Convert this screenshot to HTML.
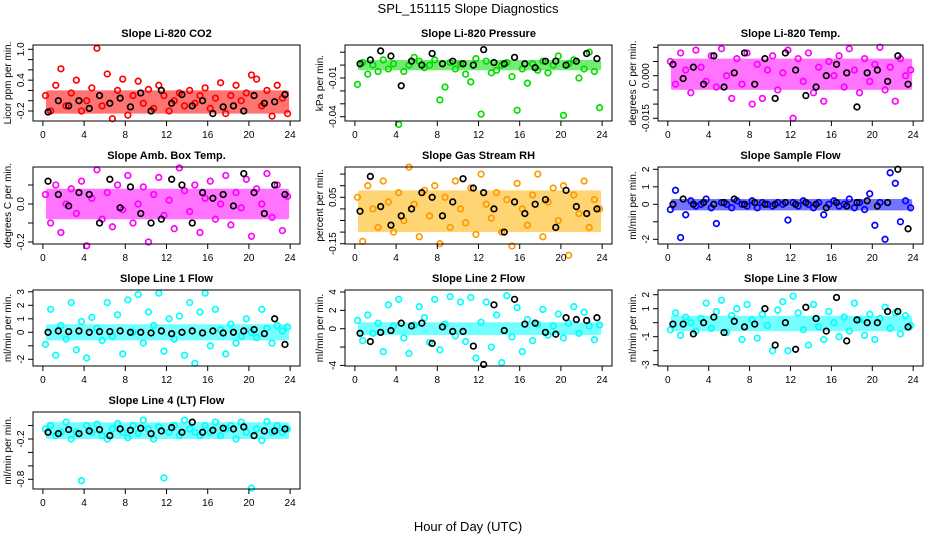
<!DOCTYPE html>
<html><head><meta charset="utf-8"><style>
body{margin:0;background:#fff}
svg{display:block;font-family:"Liberation Sans",sans-serif}
</style></head><body>
<svg id="c" width="936" height="540" viewBox="0 0 936 540">
<text x="468" y="13" text-anchor="middle" font-size="13">SPL_151115  Slope Diagnostics</text>
<text x="468" y="531" text-anchor="middle" font-size="13">Hour of Day (UTC)</text>
</svg>
<script>
const xTicks=[0,4,8,12,16,20,24];
const colHours=Array.from({length:48},(_,i)=>0.25+i*0.5);
const blkHours=Array.from({length:24},(_,i)=>0.5+i);

const co2Vals=[0.1,-0.2,0.3,0.62,-0.1,0.15,0.4,-0.2,0.0,0.25,1.02,-0.1,0.52,-0.35,0.2,0.42,-0.28,0.1,0.38,-0.05,0.22,-0.15,0.3,0.1,-0.2,0.0,0.15,-0.1,0.2,-0.05,0.1,0.25,-0.15,0.05,0.35,-0.25,0.1,0.3,0.0,0.15,0.5,0.42,-0.1,0.2,-0.3,0.3,0.05,-0.25];
const co2Blk=[-0.22,0.0,-0.1,0.0,-0.15,0.1,-0.05,0.05,-0.12,0.15,-0.2,0.2,-0.05,0.12,-0.1,0.0,-0.25,-0.12,-0.1,-0.2,0.1,-0.05,-0.02,0.12];
const presVals=[-0.015,0.002,-0.007,0.0,-0.005,0.004,-0.003,0.001,-0.046,-0.005,0.0,0.006,0.003,-0.002,0.0,0.004,-0.027,-0.017,0.002,-0.003,0.001,-0.007,-0.013,0.005,-0.038,0.003,-0.006,-0.004,0.0,0.002,-0.009,-0.035,-0.003,-0.014,0.001,-0.004,0.003,-0.006,0.0,0.007,-0.039,0.001,0.004,-0.01,-0.003,0.01,-0.005,-0.033];
const presBlk=[0.001,0.004,0.011,0.007,-0.016,0.003,0.0,0.009,0.001,0.003,0.001,0.0,0.012,0.002,0.001,0.006,0.001,-0.002,0.003,0.003,0.0,0.003,0.009,0.005];
const tempVals=[0.005,-0.003,0.008,0.002,-0.006,0.009,0.003,-0.002,0.007,-0.004,0.0095,0.0,-0.008,0.006,-0.003,0.008,-0.01,0.004,-0.008,0.002,0.007,-0.005,0.001,0.009,-0.015,0.006,-0.002,0.008,-0.006,0.003,-0.009,0.005,0.0,0.007,-0.004,0.0095,0.002,-0.006,0.006,-0.002,0.004,0.01,-0.005,0.003,-0.009,0.006,0.0,0.002];
const tempBlk=[0.004,-0.001,0.003,-0.003,0.007,-0.004,0.001,0.008,-0.003,0.006,-0.008,0.008,0.002,-0.007,-0.004,0.0,0.004,0.001,-0.011,0.001,0.002,-0.002,0.007,-0.003];
const ambVals=[0.05,-0.1,0.1,-0.15,0.0,0.08,-0.05,0.12,-0.22,0.03,0.18,-0.08,0.06,-0.12,0.1,-0.03,0.15,-0.1,0.0,0.09,-0.2,0.05,0.14,-0.06,0.02,-0.13,0.19,0.07,-0.04,0.1,-0.15,0.03,0.12,-0.08,0.0,0.15,-0.11,0.06,-0.02,0.13,-0.17,0.08,0.0,0.16,-0.07,0.1,-0.14,0.04];
const ambBlk=[0.12,0.05,-0.01,0.06,0.05,-0.1,0.13,-0.02,0.09,-0.05,-0.1,-0.08,0.13,0.1,-0.1,0.06,0.03,0.05,-0.01,0.16,0.06,-0.05,0.1,0.05];
const rhVals=[0.05,-0.14,0.1,0.0,-0.08,0.12,0.03,-0.1,0.07,-0.05,0.18,0.02,-0.12,0.08,-0.03,0.1,-0.15,0.05,-0.08,0.12,0.0,-0.06,0.09,-0.11,0.15,0.02,-0.04,0.07,-0.1,0.04,-0.16,0.11,0.0,-0.07,0.06,0.15,-0.12,0.03,0.09,-0.05,0.1,-0.2,0.06,-0.02,0.12,-0.08,0.04,0.0];
const rhBlk=[-0.01,0.14,0.01,-0.07,-0.03,0.0,0.07,0.05,-0.03,0.03,0.13,0.09,0.07,0.0,-0.1,0.03,-0.02,0.02,0.04,-0.08,0.08,0.01,-0.02,0.0];
const sfVals=[-0.3,0.8,-1.9,-0.6,0.2,-0.1,0.0,0.3,-0.2,-1.1,0.1,0.0,-0.2,0.2,0.0,-0.1,0.2,-0.2,0.1,0.0,-0.1,0.1,0.0,-0.9,0.1,-0.1,0.2,0.0,-0.2,0.1,-0.6,0.0,0.2,-0.1,0.0,0.3,-0.2,0.1,-0.3,0.6,-1.2,0.1,-2.0,1.8,1.2,-1.0,0.2,-0.2];
const sfBlk=[0.0,0.3,0.0,0.1,0.0,0.1,0.3,0.0,0.1,0.0,0.0,0.1,0.0,0.1,0.0,-0.2,0.1,-0.1,0.1,0.2,-0.1,0.1,2.0,-1.4];
const l1Vals=[-0.9,1.7,-1.7,0.5,-0.5,2.2,-1.3,0.8,-1.9,1.1,0.3,-0.6,2.2,-0.3,1.3,-1.6,2.4,0.0,2.8,-0.8,1.5,0.5,2.9,-1.4,1.0,-0.5,1.2,-1.7,2.2,-2.3,1.5,2.9,-1.0,1.7,0.2,-1.6,0.6,-0.8,-0.3,1.0,0.0,-0.4,1.7,0.3,-0.8,0.5,0.1,0.4];
const l1Blk=[0.0,0.1,0.05,0.1,0.0,0.05,0.05,0.1,0.0,0.0,-0.05,0.1,-0.1,0.0,0.1,-0.05,0.1,-0.05,0.0,0.1,0.2,-0.1,1.0,-0.9];
const l2Vals=[0.9,-1.3,1.5,-0.5,0.6,-2.5,2.6,0.3,3.2,-1.0,-2.7,0.4,2.4,1.2,-1.5,3.2,-2.3,0.5,3.5,-0.8,2.9,-1.4,3.4,-3.2,0.7,2.9,-2.0,1.5,-3.7,3.6,-0.9,2.3,-2.5,1.0,-1.3,0.5,2.1,-0.7,0.3,1.6,-1.0,0.6,2.4,-0.5,1.8,0.3,-1.2,0.4];
const l2Blk=[-0.5,-1.4,-0.4,-0.2,0.6,0.3,0.6,-1.6,0.2,-0.3,-0.3,-1.9,-3.9,2.6,-0.2,3.2,0.5,0.6,-0.4,-0.6,1.2,1.0,0.9,1.2];
const l3Vals=[-0.5,0.7,-0.9,0.4,0.0,-0.6,0.3,1.4,-0.4,0.8,1.6,-0.7,0.5,1.0,-1.2,1.3,0.2,-1.1,0.6,-0.2,-2.0,0.9,1.5,-2.0,1.9,0.7,-0.5,-1.6,1.3,-0.3,-1.2,0.8,0.0,-1.0,0.4,-0.6,1.4,0.2,-0.9,0.6,-1.2,0.3,1.1,-0.4,0.7,-0.8,0.5,-0.2];
const l3Blk=[-0.1,-0.1,-0.8,0.0,0.4,-0.7,0.1,-0.3,-0.1,1.0,-1.6,0.0,-1.9,1.1,0.3,-0.6,1.8,-1.3,0.2,0.0,0.0,0.8,0.8,-0.3];
const l4Vals=[-0.05,0.0,-0.15,-0.1,0.05,-0.2,-0.1,-0.82,0.0,-0.1,0.02,-0.15,-0.2,-0.05,0.03,-0.1,-0.18,0.0,-0.12,0.08,-0.05,-0.2,-0.02,-0.78,-0.1,0.0,-0.15,0.08,-0.05,-0.1,-0.15,0.0,-0.1,0.05,-0.15,-0.05,0.0,-0.2,0.05,-0.1,-0.93,-0.05,-0.22,0.06,-0.1,0.0,-0.1,-0.05];
const l4Blk=[-0.1,-0.12,-0.06,-0.12,-0.08,-0.06,-0.15,-0.05,-0.07,-0.04,-0.12,-0.08,-0.03,-0.1,0.05,-0.1,-0.07,-0.04,-0.05,-0.02,-0.15,-0.08,-0.08,-0.05];

const panels=[
 {name:"co2",title:"Slope Li-820 CO2",ylab:"Licor ppm per min.",col:0,row:0,color:"#ff0000",vals:co2Vals,blk:co2Blk,band:[-0.25,0.2],ref:[-0.2,111,1.0,49.3],ticks:[-0.2,0,0.2,0.4,0.6,0.8,1.0],labels:["-0.2","0.4","1.0"]},
 {name:"pressure",title:"Slope Li-820 Pressure",ylab:"kPa per min.",col:1,row:0,color:"#00dd00",vals:presVals,blk:presBlk,band:[-0.004,0.004],ref:[-0.04,116.7,-0.01,78],ticks:[-0.04,-0.03,-0.02,-0.01,0,0.01],labels:["-0.04","-0.01"]},
 {name:"temp",title:"Slope Li-820 Temp.",ylab:"degrees C per min.",col:2,row:0,color:"#ff00ff",vals:tempVals,blk:tempBlk,band:[-0.005,0.006],ref:[0,75.7,-0.015,118.3],ticks:[-0.015,-0.01,-0.005,0,0.005,0.01],labels:["-0.015","0.000"]},
 {name:"amb-temp",title:"Slope Amb. Box Temp.",ylab:"degrees C per min.",col:0,row:1,color:"#ff00ff",vals:ambVals,blk:ambBlk,band:[-0.08,0.08],ref:[0,204,-0.2,242],ticks:[-0.2,-0.1,0,0.1],labels:["-0.2","0.0"]},
 {name:"rh",title:"Slope Gas Stream RH",ylab:"percent per min.",col:1,row:1,color:"#ff9900",vals:rhVals,blk:rhBlk,band:[-0.1,0.08],ref:[0.05,197.3,-0.15,243.7],ticks:[-0.15,-0.1,-0.05,0,0.05,0.1,0.15],labels:["-0.15","0.05"]},
 {name:"sample-flow",title:"Slope Sample Flow",ylab:"ml/min per min.",col:2,row:1,color:"#0000ff",vals:sfVals,blk:sfBlk,band:[-0.35,0.3],ref:[0,204.3,2,169.3],ticks:[-2,-1,0,1,2],labels:["-2","0","1","2"]},
 {name:"line1-flow",title:"Slope Line 1 Flow",ylab:"ml/min per min.",col:0,row:2,color:"#00ffff",vals:l1Vals,blk:l1Blk,band:[-0.6,0.6],ref:[0,332.3,2,305.3],ticks:[-2,-1,0,1,2,3],labels:["-2","0","1","2","3"]},
 {name:"line2-flow",title:"Slope Line 2 Flow",ylab:"ml/min per min.",col:1,row:2,color:"#00ffff",vals:l2Vals,blk:l2Blk,band:[-0.7,0.7],ref:[0,328.7,4,292],ticks:[-4,-2,0,2,4],labels:["-4","0","2","4"]},
 {name:"line3-flow",title:"Slope Line 3 Flow",ylab:"ml/min per min.",col:2,row:2,color:"#00ffff",vals:l3Vals,blk:l3Blk,band:[-0.6,0.5],ref:[2,294.7,-3,364.7],ticks:[-3,-2,-1,0,1,2],labels:["-3","-1","1","2"]},
 {name:"line4-flow",title:"Slope Line 4 (LT) Flow",ylab:"ml/min per min.",col:0,row:3,color:"#00ffff",vals:l4Vals,blk:l4Blk,band:[-0.2,0.05],ref:[-0.2,439,-0.8,479.3],ticks:[-0.8,-0.6,-0.4,-0.2,0],labels:["-0.8","-0.2"]}
];
const colX=[[33,300],[345,612],[658,923]];
const rowY=[[45,121],[167,244],[290,366],[412,489]];
const NS="http://www.w3.org/2000/svg";
const svg=document.getElementById('c');
function mk(tag,attrs,parent){const e=document.createElementNS(NS,tag);for(const k in attrs)e.setAttribute(k,attrs[k]);(parent||svg).appendChild(e);return e;}

panels.forEach(p=>{
 const [x0,x1]=colX[p.col],[y0,y1]=rowY[p.row];
 const g=mk('g',{});
 
 
 const xs=h=>x0+(h+0.96)/25.92*(x1-x0);
 const [v1,py1,v2,py2]=p.ref;
 const ys=v=>py1+(v-v1)*(py2-py1)/(v2-v1);
 const bt=ys(p.band[1]),bb=ys(p.band[0]);
 const band=mk('rect',{x:xs(0.3),y:Math.min(bt,bb),width:xs(23.9)-xs(0.3),height:Math.abs(bb-bt),fill:p.color,opacity:0.55,rx:2},g);
 
 
 if(p.name==="rh"){band.setAttribute('fill','#ffb000');}
 p.vals.forEach((v,i)=>{
  const c=mk('circle',{cx:xs(colHours[i]),cy:ys(v),r:2.8,fill:'none',stroke:p.color,'stroke-width':1.7},g);
  
  
 });
 p.blk.forEach((v,i)=>{
  const c=mk('circle',{cx:xs(blkHours[i]),cy:ys(v),r:2.8,fill:'none',stroke:'#000','stroke-width':1.7},g);
  
  
 });
 const box=mk('rect',{x:x0,y:y0,width:x1-x0,height:y1-y0,fill:'none',stroke:'#000','stroke-width':1},g);
 
 
 const ax=mk('g',{},g);
 
 
 mk('line',{x1:xs(0),x2:xs(24),y1:y1,y2:y1,stroke:'#000'},ax);
 xTicks.forEach(t=>{
  mk('line',{x1:xs(t),x2:xs(t),y1:y1,y2:y1+5,stroke:'#000'},ax);
  const tx=mk('text',{x:xs(t),y:y1+17,'text-anchor':'middle','font-size':10},ax);
  tx.textContent=t;
 });
 const ay=mk('g',{},g);
 
 
 const tv=p.ticks.map(ys);
 mk('line',{x1:x0,x2:x0,y1:Math.min(...tv),y2:Math.max(...tv),stroke:'#000'},ay);
 p.ticks.forEach(t=>mk('line',{x1:x0-5,x2:x0,y1:ys(t),y2:ys(t),stroke:'#000'},ay));
 p.labels.forEach(l=>{
  const yy=ys(parseFloat(l));
  const tx=mk('text',{x:x0-9,y:yy,'text-anchor':'middle','font-size':10,transform:`rotate(-90 ${x0-9} ${yy})`},ay);
  tx.textContent=l;
 });
 const yl=mk('text',{x:x0-22,y:(y0+y1)/2,'text-anchor':'middle','font-size':10,transform:`rotate(-90 ${x0-22} ${(y0+y1)/2})`},g);
 yl.textContent=p.ylab;
 
 
 const ti=mk('text',{x:(x0+x1)/2,y:y0-8,'text-anchor':'middle','font-size':11,'font-weight':'bold'},g);
 ti.textContent=p.title;
 
 
});
</script>
</body></html>
